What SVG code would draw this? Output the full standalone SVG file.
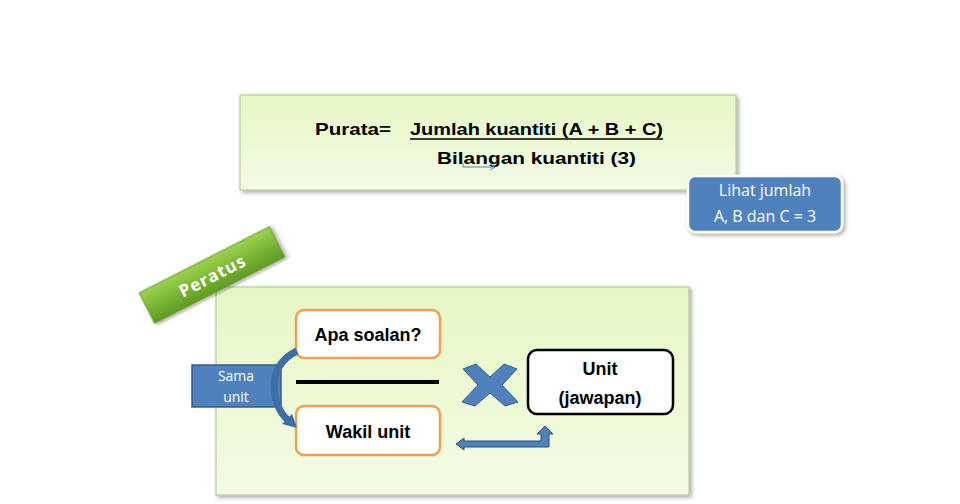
<svg xmlns="http://www.w3.org/2000/svg" width="960" height="504" viewBox="0 0 960 504">
<defs>
<linearGradient id="g" x1="0" y1="0" x2="0" y2="1"><stop offset="0" stop-color="#e6f7c4"/><stop offset="1" stop-color="#f4fbe6"/></linearGradient>
<linearGradient id="gb" x1="0" y1="0" x2="0" y2="1"><stop offset="0" stop-color="#9bd34c"/><stop offset="1" stop-color="#5e9a22"/></linearGradient>
<filter id="sh" x="-5%" y="-5%" width="110%" height="115%"><feDropShadow dx="2" dy="2" stdDeviation="2" flood-color="#000" flood-opacity="0.35"/></filter>
</defs>
<style>
.t{font-family:"Liberation Sans",Arial,sans-serif;font-weight:bold;fill:#000}
.w{font-family:"Open Sans","Liberation Sans",sans-serif;fill:#fff}
.panel{fill:url(#g);stroke:#a8c98a;stroke-width:1;filter:url(#sh)}
.ob{fill:#fff;stroke:#f0a050;stroke-width:2.5}
.blue{fill:#4f81bd;stroke:#385d8a;stroke-width:1.5}
</style>
<rect width="960" height="504" fill="#fff"/>
<g id="formula">
<rect class="panel" x="240" y="95" width="496" height="95"/>
<text class="t" x="315" y="135" font-size="17" textLength="76" lengthAdjust="spacingAndGlyphs">Purata=</text>
<text class="t" x="410" y="135" font-size="17" textLength="253" lengthAdjust="spacingAndGlyphs">Jumlah kuantiti (A + B + C)</text>
<line x1="410" y1="139" x2="663" y2="139" stroke="#000" stroke-width="1.5"/>
<text class="t" x="437" y="164" font-size="17" textLength="199" lengthAdjust="spacingAndGlyphs">Bilangan kuantiti  (3)</text>
<path d="M463 163 V167 H494" fill="none" stroke="#4f81bd" stroke-width="1"/>
<path d="M490 164 L495 167 L490 170" fill="none" stroke="#4f81bd" stroke-width="1"/>
</g>
<g id="callout">
<rect x="688" y="176" width="154" height="56" rx="7" fill="#4f81bd" stroke="#fff" stroke-width="2.5" filter="url(#sh)"/>
<text class="w" x="765" y="196" font-size="16" text-anchor="middle">Lihat jumlah</text>
<text class="w" x="765" y="222" font-size="16" text-anchor="middle">A, B dan C = 3</text>
</g>
<g id="panel2"><rect class="panel" x="216" y="287" width="473" height="208"/></g>
<g id="peratus" transform="rotate(-27 212 275)">
<rect x="139" y="258" width="146" height="34" fill="url(#gb)" stroke="#6a9a30" filter="url(#sh)"/>
<text class="w" x="212" y="282" font-size="17" font-weight="bold" text-anchor="middle" letter-spacing="1">Peratus</text>
</g>
<g id="apa">
<rect class="ob" x="296" y="310" width="144" height="48" rx="8"/>
<text class="t" x="368" y="341" font-size="18" text-anchor="middle">Apa soalan?</text>
</g>
<g id="wakil">
<rect class="ob" x="296" y="406" width="144" height="49" rx="8"/>
<text class="t" x="368" y="438" font-size="18" text-anchor="middle">Wakil unit</text>
</g>
<g id="unit">
<rect x="528" y="350" width="145" height="64" rx="9" fill="#fff" stroke="#000" stroke-width="2.5"/>
<text class="t" x="600" y="375" font-size="18" text-anchor="middle">Unit</text>
<text class="t" x="600" y="404" font-size="18" text-anchor="middle">(jawapan)</text>
</g>
<g id="sama">
<rect class="blue" x="192" y="365" width="89" height="42"/>
<text class="w" x="236" y="381" font-size="14" text-anchor="middle">Sama</text>
<text class="w" x="236" y="402" font-size="14" text-anchor="middle">unit</text>
</g>
<g id="connectors">
<line x1="296" y1="382" x2="439" y2="382" stroke="#000" stroke-width="4"/>
<path d="M297 351 Q274 362 274 388 Q276 410 288 420" fill="none" stroke="#3c6ea8" stroke-width="7"/>
<path d="M282 424 L297 428 L292 414 Z" fill="#3c6ea8"/>
<path d="M463 369 L476 364 L490 377 L504 364 L517 369 L502 385 L518 402 L505 406 L490 393 L475 406 L462 402 L478 385 Z" fill="#4f81bd" stroke="#385d8a" stroke-width="1"/>
<path d="M456 444 L464 438 V441 H541 V434 H537 L545 426 L553 434 H549 V447 H464 V450 Z" fill="#4f81bd" stroke="#2c4f7c" stroke-width="1"/>
</g>
</svg>
